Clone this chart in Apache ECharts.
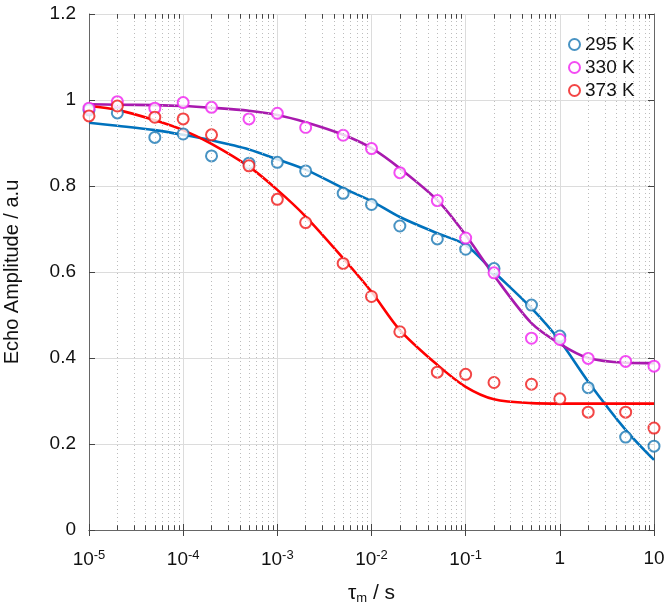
<!DOCTYPE html>
<html>
<head>
<meta charset="utf-8">
<script src="https://cdn.jsdelivr.net/npm/echarts@6/dist/echarts.min.js"></script>
<style>
  html, body { margin: 0; padding: 0; background: #fff; }
  #chart { width: 666px; height: 607px; }
</style>
</head>
<body>
<div id="chart"></div>
<script>
// mixing time (s)
const tau = [1e-5, 2e-5, 5e-5, 1e-4, 2e-4, 5e-4, 1e-3, 2e-3, 5e-3, 1e-2, 2e-2, 5e-2, 0.1, 0.2, 0.5, 1, 2, 5, 10];

// measured echo amplitudes
const amp295 = [0.977, 0.970, 0.913, 0.921, 0.870, 0.853, 0.855, 0.835, 0.783, 0.757, 0.707, 0.677, 0.653, 0.608, 0.523, 0.451, 0.331, 0.216, 0.195];
const amp330 = [0.981, 0.996, 0.981, 0.994, 0.983, 0.956, 0.969, 0.936, 0.918, 0.887, 0.831, 0.766, 0.679, 0.598, 0.446, 0.443, 0.399, 0.392, 0.381];
const amp373 = [0.963, 0.986, 0.960, 0.956, 0.919, 0.847, 0.769, 0.715, 0.620, 0.543, 0.461, 0.367, 0.362, 0.343, 0.339, 0.305, 0.274, 0.274, 0.237];

// fitted curves at the same tau
const fit295 = [0.947, 0.940, 0.930, 0.919, 0.906, 0.885, 0.862, 0.838, 0.795, 0.765, 0.728, 0.690, 0.663, 0.600, 0.516, 0.440, 0.345, 0.233, 0.163];
const fit330 = [0.990, 0.989, 0.988, 0.986, 0.982, 0.975, 0.965, 0.948, 0.919, 0.888, 0.841, 0.767, 0.686, 0.592, 0.481, 0.433, 0.400, 0.389, 0.388];
const fit373 = [0.986, 0.977, 0.953, 0.930, 0.898, 0.845, 0.791, 0.729, 0.632, 0.554, 0.465, 0.384, 0.333, 0.304, 0.295, 0.294, 0.294, 0.294, 0.294];

const seriesNames = ['295 K', '330 K', '373 K'];

const FONT = 'Liberation Sans, Arial, sans-serif';

function pairs(xs, ys) {
  return xs.map((x, i) => [x, ys[i]]);
}

// minor decade positions 2..9 x 10^n (log axis decoration only)
const minorPos = [];
for (let n = -5; n < 1; n++) {
  for (let k = 2; k <= 9; k++) minorPos.push(k * Math.pow(10, n));
}

const minorGrid = minorPos.map(x => [{ coord: [x, 0] }, { coord: [x, 1.2] }]);
const minorTicks = [];
minorPos.forEach(x => {
  minorTicks.push([{ coord: [x, 0] }, { coord: [x, 0.011] }]);
  minorTicks.push([{ coord: [x, 1.2] }, { coord: [x, 1.189] }]);
});

const chart = echarts.init(document.getElementById('chart'));

const xBase = {
  type: 'log',
  logBase: 10,
  min: 1e-5,
  max: 10,
  axisLine: { show: true, lineStyle: { color: '#666', width: 1 } },
  axisTick: { show: true, inside: true, length: 6, lineStyle: { color: '#444' } }
};

const yBase = {
  type: 'value',
  min: 0,
  max: 1.2,
  interval: 0.2,
  axisLine: { show: true, lineStyle: { color: '#666', width: 1 } },
  axisTick: { show: true, inside: true, length: 6, lineStyle: { color: '#444' } }
};

chart.setOption({
  animation: false,
  backgroundColor: '#fff',
  textStyle: { fontFamily: FONT },
  grid: { left: 89, right: 12, top: 14, bottom: 77, containLabel: false, outerBoundsMode: 'none' },
  legend: {
    data: seriesNames,
    orient: 'vertical',
    left: 563,
    top: 30,
    icon: 'emptyCircle',
    itemWidth: 11,
    itemHeight: 11,
    itemGap: 4,
    textStyle: { fontSize: 19, color: '#111', fontFamily: FONT }
  },
  xAxis: [
    Object.assign({}, xBase, {
      position: 'bottom',
      splitLine: { show: true, lineStyle: { color: '#dcdcdc', width: 1 } },
      axisLabel: {
        margin: 19,
        formatter: v => {
          const e = Math.round(Math.log10(v));
          if (e === 0) return '{b|1}';
          if (e === 1) return '{b|10}';
          return '{b|10}{s|' + e + '}';
        },
        rich: {
          b: { fontSize: 19, color: '#111', fontFamily: FONT },
          s: { fontSize: 13, color: '#111', fontFamily: FONT, verticalAlign: 'top', padding: [0, 0, 9, 0] }
        }
      },
      name: '{t|τ}{m|m}{t| / s}',
      nameLocation: 'middle',
      nameGap: 52,
      nameTextStyle: {
        rich: {
          t: { fontSize: 21, color: '#111', fontFamily: FONT },
          m: { fontSize: 13, color: '#111', fontFamily: FONT, verticalAlign: 'bottom', padding: [10, 0, 0, 0] }
        }
      }
    }),
    Object.assign({}, xBase, {
      position: 'top',
      splitLine: { show: false },
      axisLabel: { show: false }
    })
  ],
  yAxis: [
    Object.assign({}, yBase, {
      position: 'left',
      splitLine: { show: true, lineStyle: { color: '#dcdcdc', width: 1 } },
      axisLabel: {
        margin: 13,
        fontSize: 19,
        color: '#111',
        fontFamily: FONT,
        formatter: v => String(+v.toFixed(1))
      },
      name: 'Echo Amplitude / a.u',
      nameLocation: 'middle',
      nameGap: 67,
      nameTextStyle: { fontSize: 20, color: '#111', fontFamily: FONT }
    }),
    Object.assign({}, yBase, {
      position: 'right',
      splitLine: { show: false },
      axisLabel: { show: false }
    })
  ],
  series: [
    {
      name: 'minor-grid',
      type: 'line',
      data: [],
      silent: true,
      z: 1,
      markLine: {
        silent: true,
        symbol: ['none', 'none'],
        label: { show: false },
        animation: false,
        lineStyle: { color: '#bcbcbc', type: [1, 3], width: 1 },
        data: minorGrid
      }
    },
    {
      name: 'minor-ticks',
      type: 'line',
      data: [],
      silent: true,
      z: 1,
      markLine: {
        silent: true,
        symbol: ['none', 'none'],
        label: { show: false },
        animation: false,
        lineStyle: { color: '#444', type: 'solid', width: 1 },
        data: minorTicks
      }
    },
    {
      name: 'fit295', type: 'line', data: pairs(tau, fit295), smooth: 0.3, showSymbol: false,
      lineStyle: { color: '#0072BD', width: 2.6 }, z: 3
    },
    {
      name: 'fit330', type: 'line', data: pairs(tau, fit330), smooth: 0.3, showSymbol: false,
      lineStyle: { color: '#A81AAE', width: 2.6 }, z: 3
    },
    {
      name: 'fit373', type: 'line', data: pairs(tau, fit373), smooth: 0.3, showSymbol: false,
      lineStyle: { color: '#FF0000', width: 2.6 }, z: 3
    },
    {
      name: seriesNames[0], type: 'scatter', data: pairs(tau, amp295), symbol: 'emptyCircle', symbolSize: 11,
      itemStyle: { color: '#1A78B4', borderColor: '#1A78B4', borderWidth: 1.3 }, z: 4
    },
    {
      name: seriesNames[1], type: 'scatter', data: pairs(tau, amp330), symbol: 'emptyCircle', symbolSize: 11,
      itemStyle: { color: '#F020F0', borderColor: '#F020F0', borderWidth: 1.3 }, z: 4
    },
    {
      name: seriesNames[2], type: 'scatter', data: pairs(tau, amp373), symbol: 'emptyCircle', symbolSize: 11,
      itemStyle: { color: '#F01818', borderColor: '#F01818', borderWidth: 1.3 }, z: 4
    }
  ]
});
</script>
</body>
</html>
